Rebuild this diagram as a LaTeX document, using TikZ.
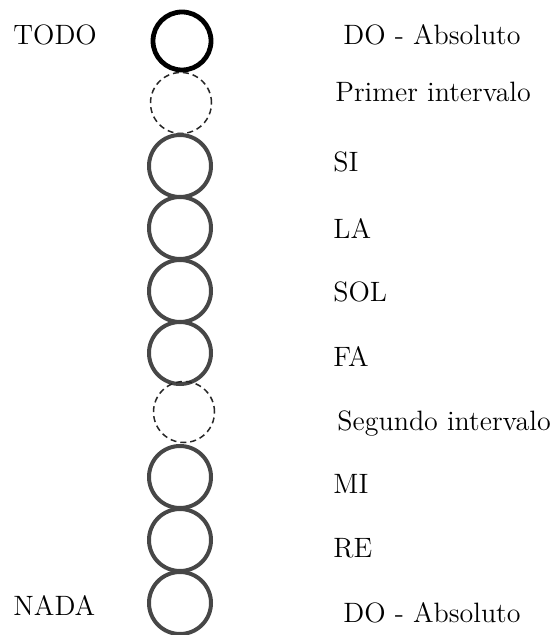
\documentclass[tikz,border=0pt]{standalone}
\begin{document}
\begin{tikzpicture}[x=0.5pt, y=-0.5pt,
    circ/.style={draw=black!72, circle, line width=2pt, inner sep=0pt, minimum size=31pt},
    circtop/.style={draw=black, circle, line width=2.4pt, inner sep=0pt, minimum size=29pt},
    circgap/.style={draw=black!85, circle, line width=0.75pt, dash pattern=on 3pt off 2pt, inner sep=0pt, minimum size=30.5pt},
    lbl/.style={anchor=base west, inner sep=0pt, font=\fontsize{14}{17}\selectfont}]
    \useasboundingbox (0,0) rectangle (557,635);
    % circles, top to bottom
    \node[circtop] (do1) at (182,41) {};
    \node[circgap] (int1) at (181,103) {};
    \node[circ] (si) at (180,166) {};
    \node[circ] (la) at (180,228) {};
    \node[circ] (sol) at (180,291) {};
    \node[circ] (fa) at (180,353) {};
    \node[circgap] (int2) at (184,412) {};
    \node[circ] (mi) at (180,477) {};
    \node[circ] (re) at (180,540) {};
    \node[circ] (do2) at (180,603) {};
    % labels
    \node[lbl] (todo) at (13,45) {TODO};
    \node[lbl] (nada) at (13,615) {NADA};
    \node[lbl] (ldo1) at (343,45) {DO - Absoluto};
    \node[lbl] (lint1) at (335,102) {Primer intervalo};
    \node[lbl] (lsi) at (333,172) {SI};
    \node[lbl] (lla) at (333,239) {LA};
    \node[lbl] (lsol) at (333,302) {SOL};
    \node[lbl] (lfa) at (333,366) {FA};
    \node[lbl] (lint2) at (337,430) {Segundo intervalo};
    \node[lbl] (lmi) at (333,493) {MI};
    \node[lbl] (lre) at (333,557) {RE};
    \node[lbl] (ldo2) at (343,622) {DO - Absoluto};
\end{tikzpicture}
\end{document}
